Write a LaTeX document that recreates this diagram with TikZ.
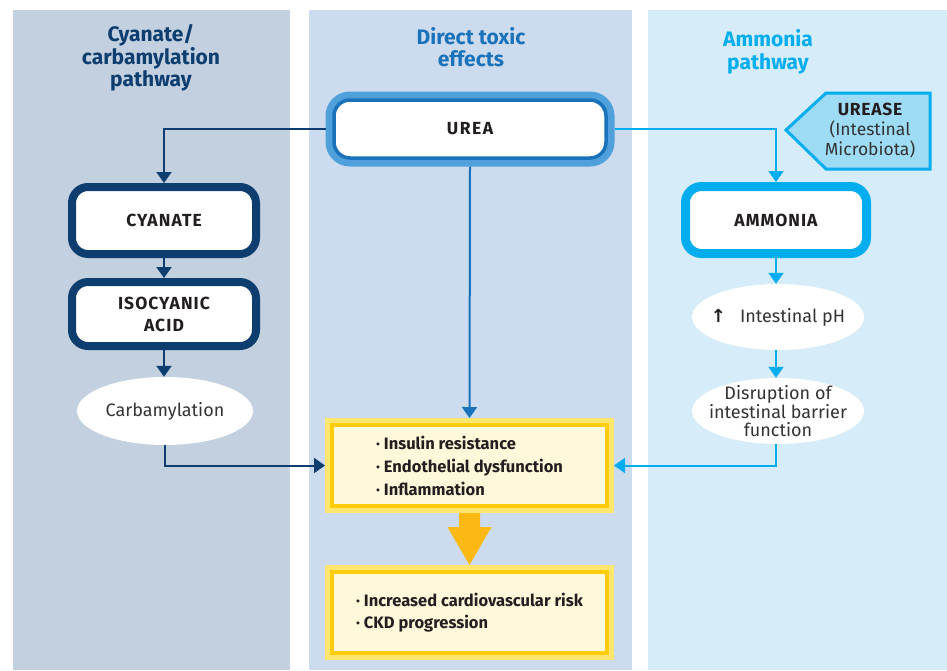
\documentclass[tikz,border=0pt]{standalone}
\usepackage{fontspec}
\setmainfont{Fira Sans}
\usetikzlibrary{arrows.meta,shapes.geometric,calc}
\definecolor{navy}{HTML}{0D3E6F}
\definecolor{midblue}{HTML}{1A72BA}
\definecolor{halo}{HTML}{4FA0DB}
\definecolor{cyanc}{HTML}{00AEEF}
\definecolor{panelL}{HTML}{C3D0E0}
\definecolor{panelM}{HTML}{CCDCEE}
\definecolor{panelR}{HTML}{D6EDF9}
\definecolor{txt}{HTML}{231F20}
\definecolor{softtxt}{HTML}{333333}
\definecolor{ylight}{HTML}{FFE66E}
\definecolor{ydark}{HTML}{FFCC0A}
\definecolor{cream}{HTML}{FFF8DA}
\definecolor{orangeA}{HTML}{FDB913}
\definecolor{ureasefill}{HTML}{9EDCF6}
\tikzset{
  title/.style={font=\bfseries\fontsize{21}{22.5}\selectfont, align=center},
  boxtext/.style={font=\bfseries\fontsize{17.5}{22}\selectfont\addfontfeatures{LetterSpace=6}, text=txt, align=center},
  pathbox/.style={rounded corners=16pt, fill=white, line width=8pt, minimum width=184pt, boxtext},
  ureabox/.style={rounded corners=16pt, fill=white, draw=midblue, line width=3.5pt,
     preaction={draw=halo, line width=17pt}, outer sep=8.5pt, minimum width=272pt, minimum height=58pt, boxtext},
  oval/.style={ellipse, fill=white, inner sep=0pt},
  ovaltext/.style={text=softtxt, align=center, font=\fontsize{18}{17.5}\selectfont},
  ybox/.style={fill=cream, draw=ydark, line width=4pt, preaction={draw=ylight, line width=14pt}, outer sep=7pt,
     minimum width=275pt, minimum height=81pt, text=txt, align=left, font=\bfseries\fontsize{16.5}{23}\selectfont},
  conn/.style={line width=2pt, -{Triangle[length=11pt,width=15pt]}},
}
\begin{document}
\begin{tikzpicture}[x=1pt,y=-1pt]
\useasboundingbox (0,0) rectangle (947,670);
\fill[white] (0,0) rectangle (947,670);
% panels
\fill[panelL] (13,10) rectangle (290,670);
\fill[panelM] (309,10) rectangle (632,670);
\fill[panelR] (648,10) rectangle (947,670);
% titles
\node[title, text=navy] (t1) at (151,58) {Cyanate/\\carbamylation\\pathway};
\node[title, text=midblue] (t2) at (471,47) {Direct toxic\\effects};
\node[title, text=cyanc] (t3) at (768,52) {Ammonia\\pathway};
% nodes
\node[ureabox] (urea) at (470,129) {\addfontfeatures{LetterSpace=9}UREA};
\node[pathbox, draw=navy, minimum height=67pt] (cyan) at (164,220.5) {CYANATE};
\node[pathbox, draw=navy, minimum height=64pt] (iso) at (164,314) {ISOCYANIC\\ACID};
\node[oval, minimum width=176pt, minimum height=68pt] (carb) at (165,411) {};
\node[ovaltext] (carbt) at (carb) {Carbamylation};
\node[pathbox, draw=cyanc, line width=9pt, minimum height=67pt, minimum width=181pt] (amm) at (776,220) {AMMONIA};
\node[oval, minimum width=172pt, minimum height=66pt] (ph) at (778,317) {};
\node[ovaltext] (pht) at (ph) {{\fontspec{DejaVu Sans}\bfseries\color{txt}↑}\hspace{14pt}Intestinal pH};
\node[oval, minimum width=172pt, minimum height=66pt] (dis) at (778,411) {};
\node[ovaltext] (dist) at (dis) {Disruption of\\intestinal barrier\\function};
% urease pentagon
\draw[cyanc, line width=3pt, fill=ureasefill, line join=miter] (786,130) -- (826,93) -- (930,93) -- (930,169) -- (826,169) -- cycle;
\node[text=softtxt, align=center, font=\fontsize{17.5}{20}\selectfont] (urease) at (870,131) {{\bfseries\color{txt}\addfontfeatures{LetterSpace=4}UREASE}\\(Intestinal\\Microbiota)};
% yellow boxes
\node[ybox] (y1) at (469.5,465.5) {· Insulin resistance\\· Endothelial dysfunction\\· Inflammation};
\node[ybox, font=\bfseries\fontsize{16.5}{22}\selectfont] (y2) at (469.5,612.5) {· Increased cardiovascular risk\\· CKD progression};
% big arrow
\fill[orangeA] ($(y1.south)+(-10.5,0)$) -- ($(y1.south)+(10.5,0)$) -- ($(y1.south)+(10.5,14)$) -- ($(y1.south)+(22,14)$)
  -- (y2.north) -- ($(y1.south)+(-22,14)$) -- ($(y1.south)+(-10.5,14)$) -- cycle;
% connectors
\draw[conn, navy] (urea.west) -| (cyan.north);
\draw[conn, navy] (cyan.south) -- (iso.north);
\draw[conn, navy] (iso.south) -- (iso.south |- carb.north);
\draw[conn, navy] (carb.south) |- (y1.west);
\draw[conn, midblue] (urea.south) -- (y1.north);
\draw[conn, cyanc] (urea.east) -| (amm.north);
\draw[conn, cyanc] (amm.south) -- (amm.south |- ph.north);
\draw[conn, cyanc] (ph.south -| amm.south) -- (amm.south |- dis.north);
\draw[conn, cyanc] (dis.south -| amm.south) |- (y1.east);
\end{tikzpicture}
\end{document}
